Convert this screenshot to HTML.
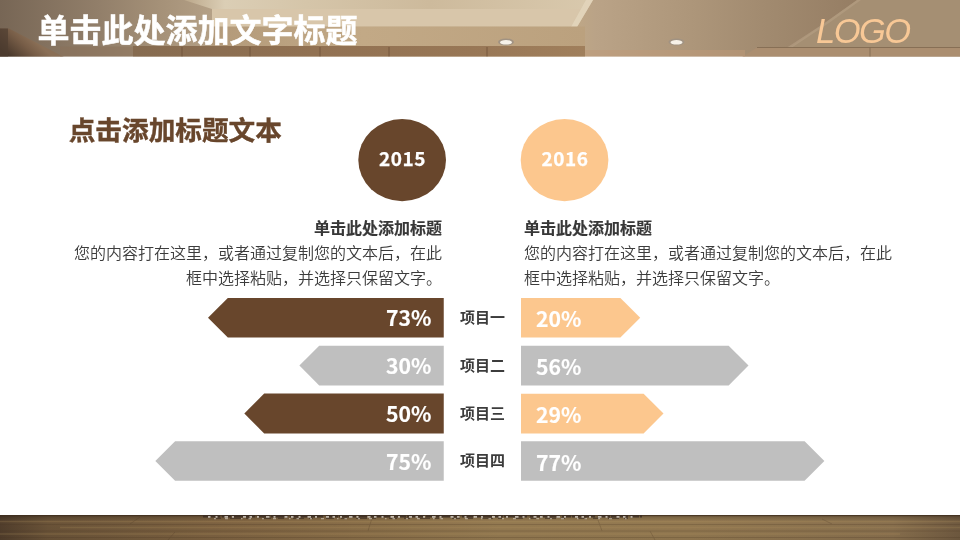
<!DOCTYPE html>
<html lang="zh-CN">
<head>
<meta charset="utf-8">
<title>单击此处添加文字标题</title>
<style>
html,body{margin:0;padding:0;}
body{width:960px;height:540px;overflow:hidden;background:#fff;position:relative;font-family:"Liberation Sans","Noto Sans CJK SC",sans-serif;}
#bg{position:absolute;left:0;top:0;width:960px;height:540px;display:block;}
.t{position:absolute;white-space:nowrap;line-height:1;margin:0;}
#title{left:37.5px;top:14.5px;font-size:32px;font-weight:700;color:#fff;-webkit-text-stroke:0.5px #fff;}
#logo{left:816px;top:13.5px;font-size:34.5px;font-style:italic;color:#f8c896;letter-spacing:-1.5px;font-family:"Liberation Sans",sans-serif;}
#h2{left:68.7px;top:117.7px;font-size:26.67px;font-weight:700;color:#68462c;-webkit-text-stroke:0.4px #68462c;}
.sub{font-size:16px;font-weight:700;color:#383838;-webkit-text-stroke:0.15px #383838;}
.body{font-size:16px;font-weight:350;color:#3c3c3c;line-height:25px;}
.pct{font-size:21.2px;font-weight:700;color:#fff;-webkit-text-stroke:0.15px #fff;font-family:"Noto Sans CJK SC",sans-serif;}
.yr{font-size:19px;font-weight:700;color:#fff;text-align:center;width:88px;letter-spacing:0.6px;-webkit-text-stroke:0.25px #fff;font-family:"Noto Sans CJK SC",sans-serif;}
.lab{font-size:15px;font-weight:700;color:#3c3c3c;left:460px;}
.r{text-align:right;}
</style>
</head>
<body>
<svg id="bg" width="960" height="540" viewBox="0 0 960 540">
  <defs>
    <linearGradient id="hd" x1="0" y1="0" x2="960" y2="0" gradientUnits="userSpaceOnUse">
      <stop offset="0" stop-color="#776655"/>
      <stop offset="0.10" stop-color="#917e69"/>
      <stop offset="0.167" stop-color="#a59178"/>
      <stop offset="0.22" stop-color="#b4a086"/>
      <stop offset="0.24" stop-color="#b9a284"/>
      <stop offset="0.60" stop-color="#bfa786"/>
      <stop offset="0.62" stop-color="#baa387"/>
      <stop offset="0.72" stop-color="#ad967a"/>
      <stop offset="0.80" stop-color="#a18a6f"/>
      <stop offset="0.89" stop-color="#967e64"/>
      <stop offset="1" stop-color="#967e64"/>
    </linearGradient>
    <clipPath id="hclip"><rect x="0" y="0" width="960" height="56.5"/></clipPath>
    <linearGradient id="beam" x1="34" y1="40" x2="14" y2="62" gradientUnits="userSpaceOnUse">
      <stop offset="0" stop-color="#8a6f56"/><stop offset="0.35" stop-color="#775d47"/><stop offset="1" stop-color="#46362a"/>
    </linearGradient>
    <linearGradient id="wood" x1="133" y1="0" x2="585" y2="0" gradientUnits="userSpaceOnUse">
      <stop offset="0" stop-color="#866b50"/><stop offset="0.4" stop-color="#917152"/><stop offset="0.75" stop-color="#987756"/><stop offset="1" stop-color="#a07f5c"/>
    </linearGradient>
    <linearGradient id="recess" x1="184" y1="0" x2="593" y2="0" gradientUnits="userSpaceOnUse">
      <stop offset="0" stop-color="#bba78a"/><stop offset="0.1" stop-color="#dbceb5"/><stop offset="0.3" stop-color="#d5c5a9"/><stop offset="0.6" stop-color="#cdba9c"/><stop offset="1" stop-color="#d9c9ad"/>
    </linearGradient>
    <linearGradient id="lowband" x1="215" y1="0" x2="585" y2="0" gradientUnits="userSpaceOnUse">
      <stop offset="0" stop-color="#b39a7a"/><stop offset="0.4" stop-color="#c2a986"/><stop offset="1" stop-color="#bba17e"/>
    </linearGradient>
    <linearGradient id="flv" x1="0" y1="515" x2="0" y2="540" gradientUnits="userSpaceOnUse">
      <stop offset="0" stop-color="#000" stop-opacity="0.25"/>
      <stop offset="0.25" stop-color="#000" stop-opacity="0"/>
      <stop offset="1" stop-color="#000" stop-opacity="0.05"/>
    </linearGradient>
    <linearGradient id="fl" x1="0" y1="0" x2="960" y2="0" gradientUnits="userSpaceOnUse">
      <stop offset="0" stop-color="#513e2c"/>
      <stop offset="0.05" stop-color="#6a5338"/>
      <stop offset="0.22" stop-color="#7d6241"/>
      <stop offset="0.38" stop-color="#8a6f49"/>
      <stop offset="0.52" stop-color="#947a51"/>
      <stop offset="0.72" stop-color="#937951"/>
      <stop offset="0.93" stop-color="#89704e"/>
      <stop offset="1" stop-color="#705a40"/>
    </linearGradient>
  </defs>
  <g clip-path="url(#hclip)">
    <rect x="0" y="0" width="960" height="57" fill="url(#hd)"/>
    <!-- ceiling recess (light) -->
    <polygon points="184,0 593,0 577,27 212,27 212,9" fill="url(#recess)"/>
    <polygon points="212,9 581,9 576,26.5 212,26.5" fill="#d8c6aa"/>
    <polygon points="586,0 593,0 577,27 571,27" fill="#e4d6bd" opacity="0.8"/>
    <rect x="212" y="26.5" width="373" height="21" fill="url(#lowband)"/>
    <!-- wood cabinets -->
    <rect x="133" y="46" width="452" height="11.5" fill="url(#wood)"/>
    <rect x="60" y="46.5" width="73" height="11" fill="#8a7058" opacity="0.5"/>
    <g stroke="#5f452e" stroke-width="0.8" opacity="0.7">
      <line x1="182" y1="47" x2="182" y2="57"/><line x1="250" y1="47" x2="250" y2="57"/>
      <line x1="320" y1="47" x2="320" y2="57"/><line x1="389" y1="47" x2="389" y2="57"/>
      <line x1="487" y1="47" x2="487" y2="57"/>
    </g>
    <!-- left dark corner + beam -->
    <polygon points="0,28.5 9,28.5 64,57 0,57" fill="url(#beam)"/>
    <rect x="0" y="28.5" width="8" height="29" fill="#4f3d30" opacity="0.7"/>
    <!-- right wall shading -->
    <polygon points="857,0 960,0 960,47.5 790,47.5 826,22" fill="#a58f73"/>
    <polygon points="857,0 861,0 829,23 792,47.5 787,47.5 826,22" fill="#b39d81" opacity="0.7"/>
    <polygon points="757,47.5 960,47.5 960,57 742,57" fill="#ab8e70"/>
    <line x1="757" y1="47.5" x2="960" y2="47.5" stroke="#7f684f" stroke-width="0.8"/>
    <line x1="870" y1="47.5" x2="870" y2="57" stroke="#7f684f" stroke-width="0.8"/>
    <rect x="585" y="50" width="160" height="7" fill="#c09a78" opacity="0.5"/>
    <!-- downlights -->
    <ellipse cx="506" cy="42" rx="8" ry="3.5" fill="#a19383"/>
    <ellipse cx="506" cy="42.3" rx="6" ry="2.3" fill="#f6f1e8"/>
    <ellipse cx="676.5" cy="42" rx="8" ry="3.5" fill="#a19383"/>
    <ellipse cx="676.5" cy="42.3" rx="6" ry="2.3" fill="#f6f1e8"/>
  </g>
  <g>
    <rect x="0" y="515" width="960" height="25" fill="url(#fl)"/>
    <rect x="0" y="515" width="960" height="25" fill="url(#flv)"/>
    <g stroke="#b3955f" stroke-width="1.6" opacity="0.22">
      <line x1="0" y1="521.5" x2="960" y2="521.5"/><line x1="60" y1="527.5" x2="960" y2="527.5"/><line x1="0" y1="534" x2="900" y2="534"/>
    </g>
    <g stroke="#4a3623" stroke-width="0.8" opacity="0.3">
      <line x1="0" y1="524.5" x2="960" y2="524.5"/><line x1="0" y1="531" x2="960" y2="531"/><line x1="0" y1="537.5" x2="960" y2="537.5"/>
      <line x1="140" y1="517" x2="130" y2="524"/><line x1="175" y1="532" x2="168" y2="540"/><line x1="372" y1="518" x2="368" y2="531"/><line x1="598" y1="520" x2="602" y2="531"/><line x1="650" y1="531" x2="655" y2="540"/><line x1="822" y1="519" x2="832" y2="524"/>
    </g>
    <rect x="0" y="515" width="960" height="1.2" fill="#3f2d1e" opacity="0.75"/>
    <path d="M203,516.3 L642,516.3" stroke="#3a2c22" stroke-width="2.4" stroke-dasharray="17 2 9 1 23 3 12 1" opacity="0.8"/>
    <path d="M215,518.3 L630,518.3" stroke="#3a2c22" stroke-width="1.6" stroke-dasharray="6 9 11 5 4 13 8 7" opacity="0.6"/>
    <path d="M208,516.8 L636,516.8" stroke="#e9e2d8" stroke-width="1.8" stroke-dasharray="2.5 5 2 7 3.5 4 2 9 3 3.5" opacity="0.75"/>
    <path d="M214,518.6 L628,518.6" stroke="#d9d0c4" stroke-width="1.2" stroke-dasharray="2 9 3 13 1.5 6 2.5 11" opacity="0.6"/>
  </g>
  <!-- circles -->
  <ellipse cx="402.15" cy="160.1" rx="43.85" ry="41.1" fill="#68462c"/>
  <ellipse cx="564.55" cy="160.1" rx="43.85" ry="41.1" fill="#fcc78e"/>
  <!-- left bars -->
  <polygon points="208,317.8 227.8,298 443.75,298 443.75,337.6 227.8,337.6" fill="#68462c"/>
  <polygon points="299.4,365.6 319.2,345.85 443.75,345.85 443.75,385.4 319.2,385.4" fill="#bfbfbf"/>
  <polygon points="244.3,413.5 264.2,393.6 443.75,393.6 443.75,433.5 264.2,433.5" fill="#68462c"/>
  <polygon points="155.3,461 175.1,441.2 443.75,441.2 443.75,480.8 175.1,480.8" fill="#bfbfbf"/>
  <!-- right bars -->
  <polygon points="521,298 620.4,298 640.2,317.8 620.4,337.6 521,337.6" fill="#fcc78e"/>
  <polygon points="521,345.85 728.7,345.85 748.5,365.6 728.7,385.4 521,385.4" fill="#bfbfbf"/>
  <polygon points="521,393.8 643.6,393.8 663.5,413.6 643.6,433.5 521,433.5" fill="#fcc78e"/>
  <polygon points="521,441.2 804.6,441.2 824.4,461 804.6,480.8 521,480.8" fill="#bfbfbf"/>
</svg>

<div class="t" id="title">单击此处添加文字标题</div>
<div class="t" id="logo">LOGO</div>
<div class="t" id="h2">点击添加标题文本</div>

<div class="t yr" style="left:358.5px;top:148px;">2015</div>
<div class="t yr" style="left:521px;top:148px;">2016</div>

<div class="t sub r" style="left:74px;width:368px;top:221px;">单击此处添加标题</div>
<div class="t body r" style="left:64px;width:378px;top:241px;">您的内容打在这里，或者通过复制您的文本后，在此<br>框中选择粘贴，并选择只保留文字。</div>

<div class="t sub" style="left:524px;top:221px;">单击此处添加标题</div>
<div class="t body" style="left:524px;top:241px;">您的内容打在这里，或者通过复制您的文本后，在此<br>框中选择粘贴，并选择只保留文字。</div>

<div class="t pct r" style="left:331.4px;width:100px;top:306px;">73%</div>
<div class="t pct r" style="left:331.4px;width:100px;top:354px;">30%</div>
<div class="t pct r" style="left:331.4px;width:100px;top:402px;">50%</div>
<div class="t pct r" style="left:331.4px;width:100px;top:450px;">75%</div>

<div class="t pct" style="left:536px;top:307px;">20%</div>
<div class="t pct" style="left:536px;top:355px;">56%</div>
<div class="t pct" style="left:536px;top:403px;">29%</div>
<div class="t pct" style="left:536px;top:451px;">77%</div>

<div class="t lab" style="top:310px;">项目一</div>
<div class="t lab" style="top:357.8px;">项目二</div>
<div class="t lab" style="top:405.6px;">项目三</div>
<div class="t lab" style="top:453.4px;">项目四</div>
</body>
</html>
